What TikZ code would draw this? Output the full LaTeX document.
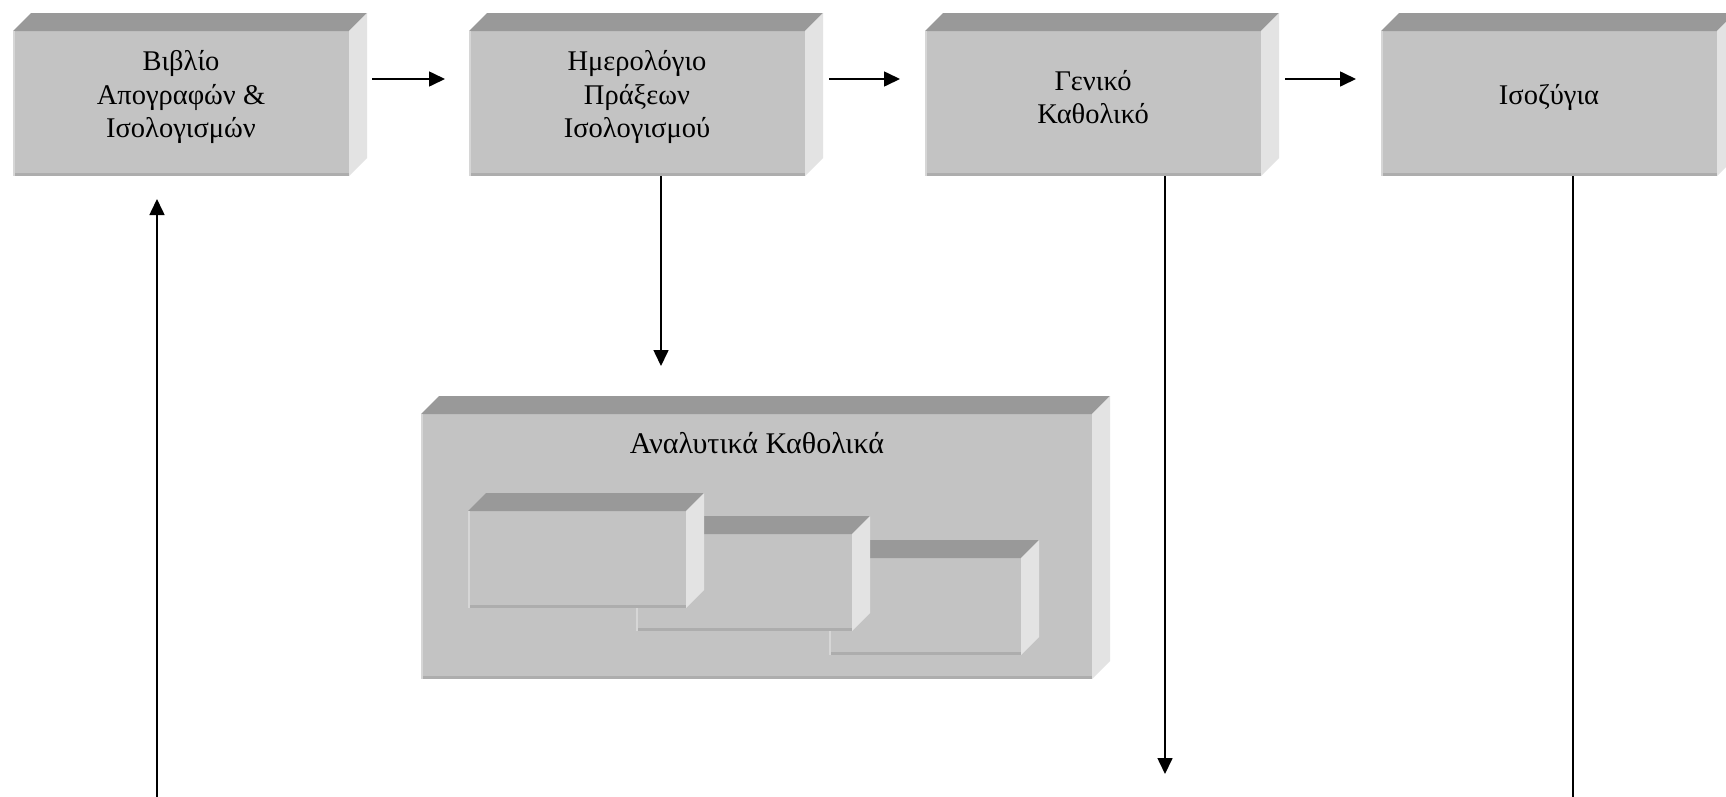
\documentclass[tikz,border=0pt]{standalone}
\usepackage{fontspec}
\setmainfont{Liberation Serif}
\usetikzlibrary{arrows.meta,calc}

% shades of the bevelled slabs
\definecolor{slabfront}{gray}{0.765}
\definecolor{slabtop}{gray}{0.60}
\definecolor{slabside}{gray}{0.89}
\definecolor{slabshade}{gray}{0.68}
\definecolor{slablight}{gray}{0.84}

\tikzset{
  slab/.style={rectangle, fill=slabfront, inner sep=0pt, outer sep=0pt},
  boxtext/.style={align=center, inner sep=0pt, font=\fontsize{28.5}{33.5}\selectfont},
  titletext/.style={inner sep=0pt, font=\fontsize{30}{34}\selectfont},
  arr/.style={line width=1.6pt, -{Triangle[length=16pt,width=15pt]}},
  plain/.style={line width=1.6pt},
}

% top face, side face and edge bands of a slab whose front face is node #1
\newcommand{\slabfaces}[1]{%
  \fill[slabtop] (#1.north west) -- ++(18,-18) -- ($(#1.north east)+(18,-18)$) -- (#1.north east) -- cycle;
  \fill[slabside] (#1.north east) -- ++(18,-18) -- ($(#1.south east)+(18,-18)$) -- (#1.south east) -- cycle;
  \fill[slabshade] ($(#1.south west)+(0,-3)$) rectangle (#1.south east);
  \fill[slablight] (#1.south west) rectangle ($(#1.north west)+(2,0)$);
}

\begin{document}
\begin{tikzpicture}[x=1pt, y=-1pt]
  \useasboundingbox (0,0) rectangle (1726,796);
  \clip (0,0) rectangle (1726,796);
  \fill[white] (0,0) rectangle (1726,796);

  % main row of books
  \node[slab, minimum width=336, minimum height=145] (b1) at (181,103.5) {};
  \slabfaces{b1}
  \node[slab, minimum width=336, minimum height=145] (b2) at (637,103.5) {};
  \slabfaces{b2}
  \node[slab, minimum width=336, minimum height=145] (b3) at (1093,103.5) {};
  \slabfaces{b3}
  \node[slab, minimum width=336, minimum height=145] (b4) at (1549,103.5) {};
  \slabfaces{b4}

  \node[boxtext] (t1) at (181,97) {Βιβλίο\\Απογραφών \&\\Ισολογισμών};
  \node[boxtext] (t2) at (637,97) {Ημερολόγιο\\Πράξεων\\Ισολογισμού};
  \node[boxtext] (t3) at (1093,97) {Γενικό\\Καθολικό};
  \node[boxtext] (t4) at (1549,97) {Ισοζύγια};

  % subsidiary ledgers
  \node[slab, minimum width=671, minimum height=265] (ak) at (756.5,546.5) {};
  \slabfaces{ak}
  \node[titletext, anchor=base] (akt) at (757,453) {Αναλυτικά Καθολικά};

  \node[slab, minimum width=192, minimum height=97] (lc) at (925,606.5) {};
  \slabfaces{lc}
  \node[slab, minimum width=216, minimum height=97] (lb) at (744,582.5) {};
  \slabfaces{lb}
  \node[slab, minimum width=218, minimum height=97] (la) at (577,559.5) {};
  \slabfaces{la}

  % flow between the books
  \draw[arr, shorten <=23pt, shorten >=24pt] ([yshift=24.5pt]b1.east) -- ([yshift=24.5pt]b2.west);
  \draw[arr, shorten <=24pt, shorten >=25pt] ([yshift=24.5pt]b2.east) -- ([yshift=24.5pt]b3.west);
  \draw[arr, shorten <=24pt, shorten >=25pt] ([yshift=24.5pt]b3.east) -- ([yshift=24.5pt]b4.west);

  \draw[arr, shorten >=48pt] ([xshift=24pt]b2.south) -- ([xshift=24pt]b2.south |- ak.north);

  \coordinate (e3) at (1165,774);
  \draw[arr] ([xshift=72pt]b3.south) -- (e3);

  \coordinate (e4) at (1573,800);
  \draw[plain] ([xshift=24pt]b4.south) -- (e4);

  \coordinate (s1) at (157,800);
  \draw[arr, shorten >=23pt] (s1) -- (s1 |- b1.south);
\end{tikzpicture}
\end{document}
